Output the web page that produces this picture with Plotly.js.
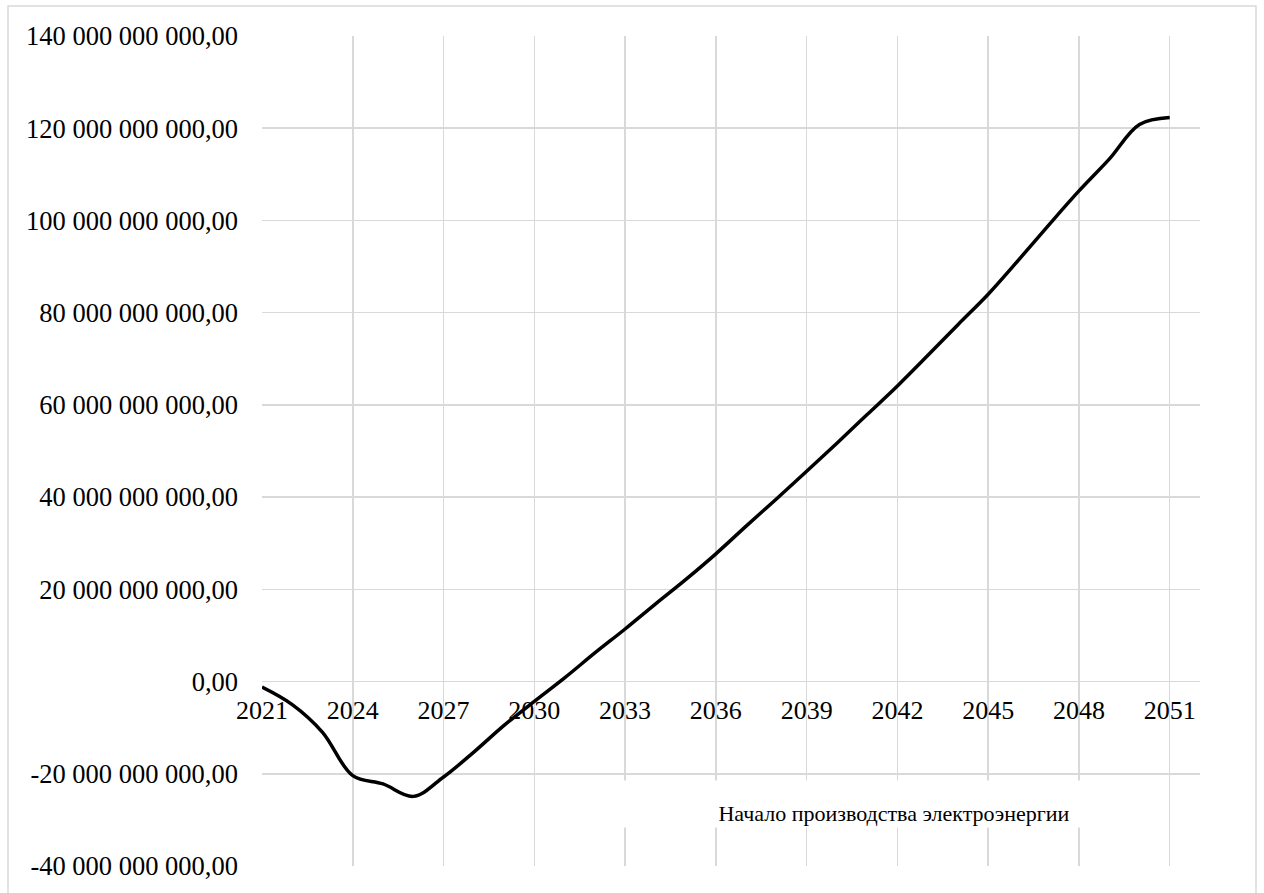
<!DOCTYPE html>
<html>
<head>
<meta charset="utf-8">
<script src="https://cdn.plot.ly/plotly-3.0.1.min.js"></script>
<style>
  html, body { margin: 0; padding: 0; background: #ffffff; }
  #chart { width: 1264px; height: 893px; }
</style>
</head>
<body>
<div id="chart"></div>
<script>
// Годы расчётного периода
const years = [2021, 2022, 2023, 2024, 2025, 2026, 2027, 2028, 2029, 2030,
               2031, 2032, 2033, 2034, 2035, 2036, 2037, 2038, 2039, 2040,
               2041, 2042, 2043, 2044, 2045, 2046, 2047, 2048, 2049, 2050, 2051];

// Накопленный денежный поток, млрд
const cashFlowBn = [-1.2, -5.0, -11.0, -20.4, -22.2, -24.9, -20.7, -15.3, -9.5, -4.3,
                    0.8, 6.2, 11.4, 16.8, 22.1, 27.7, 33.7, 39.6, 45.6, 51.7,
                    57.9, 64.1, 70.7, 77.4, 84.0, 91.4, 99.0, 106.4, 113.3, 120.8, 122.3];

// Деления осей
const xTickYears = [2021, 2024, 2027, 2030, 2033, 2036, 2039, 2042, 2045, 2048, 2051];
const yTickValues = [-40e9, -20e9, 0, 20e9, 40e9, 60e9, 80e9, 100e9, 120e9, 140e9];
const yTickLabels = ['-40 000 000 000,00', '-20 000 000 000,00', '0,00',
                     '20 000 000 000,00', '40 000 000 000,00', '60 000 000 000,00',
                     '80 000 000 000,00', '100 000 000 000,00', '120 000 000 000,00',
                     '140 000 000 000,00'];

const noteText = 'Начало производства электроэнергии';

const FONT = 'Liberation Serif, Times New Roman, serif';
const GRID = '#d9d9d9';

const yMin = -40e9, yMax = 140e9;

const trace = {
  x: years,
  y: cashFlowBn.map(v => v * 1e9),
  type: 'scatter',
  mode: 'lines',
  line: { color: '#000000', width: 3.5, shape: 'spline', smoothing: 1 },
  hoverinfo: 'skip'
};

const layout = {
  width: 1264,
  height: 893,
  margin: { l: 262, r: 64, t: 36, b: 27 },
  paper_bgcolor: '#ffffff',
  plot_bgcolor: '#ffffff',
  showlegend: false,
  font: { family: FONT, size: 26, color: '#000000' },
  xaxis: {
    range: [2021, 2052],
    tickmode: 'array',
    tickvals: xTickYears,
    ticktext: xTickYears.map(String),
    showgrid: true,
    gridcolor: GRID,
    gridwidth: 1.5,
    zeroline: false,
    showline: false,
    ticks: '',
    anchor: 'free',
    position: (0 - yMin) / (yMax - yMin),
    ticklabelstandoff: 10,
    tickfont: { family: FONT, size: 26, color: '#000000' },
    fixedrange: true
  },
  yaxis: {
    range: [yMin, yMax],
    tickmode: 'array',
    tickvals: yTickValues,
    ticktext: yTickLabels,
    showgrid: true,
    gridcolor: GRID,
    gridwidth: 1.5,
    zeroline: true,
    zerolinecolor: GRID,
    zerolinewidth: 1.5,
    showline: false,
    ticks: '',
    ticklabelstandoff: 23,
    tickfont: { family: FONT, size: 26.5, color: '#000000' },
    fixedrange: true
  },
  annotations: [{
    xref: 'paper', yref: 'paper',
    x: (894 - 262) / 938, y: (866 - 804) / 830,
    xanchor: 'center', yanchor: 'middle',
    text: noteText,
    showarrow: false,
    bgcolor: '#ffffff',
    width: 544,
    height: 44,
    align: 'center',
    valign: 'bottom',
    font: { family: FONT, size: 22, color: '#000000' }
  }],
  shapes: [{
    type: 'rect',
    xref: 'paper', yref: 'paper',
    x0: (8 - 262) / 938, x1: (1256 - 262) / 938,
    y0: -0.08, y1: (866 - 6) / 830,
    line: { color: GRID, width: 1.5 },
    fillcolor: 'rgba(0,0,0,0)',
    layer: 'below'
  }]
};

Plotly.newPlot('chart', [trace], layout, { displayModeBar: false, staticPlot: true });
</script>
</body>
</html>
